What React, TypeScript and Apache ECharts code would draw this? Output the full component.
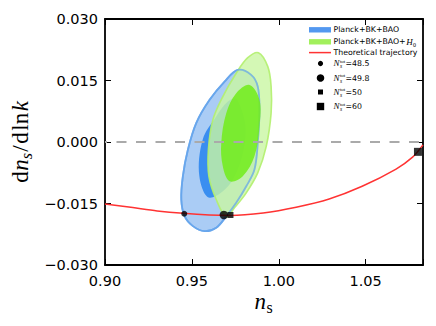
import { useEffect, useRef } from 'react';
import * as echarts from 'echarts';

// ---------- data ----------
const xRange = [0.9, 1.083];
const yRange = [-0.03, 0.03];
const xTickValues = [0.9, 0.95, 1.0, 1.05];
const xTickLabels = ['0.90', '0.95', '1.00', '1.05'];
const yTickValues = [-0.03, -0.015, 0, 0.015, 0.03];
const yTickLabels = ['\u22120.030', '\u22120.015', '0.000', '0.015', '0.030'];

// Planck+BK+BAO 95% and 68% contours (ns, dns/dlnk)
const blueOuter95 = [
  [0.9764, 0.01758], [0.9841, 0.01636], [0.9879, 0.01352], [0.9889, 0.00785],
  [0.9879, -0.00024], [0.986, -0.00673], [0.9813, -0.0108], [0.9755, -0.01483],
  [0.9698, -0.01809], [0.964, -0.02091], [0.9573, -0.02174], [0.9506, -0.02052],
  [0.9458, -0.01809], [0.9439, -0.01403], [0.9448, -0.00836], [0.9477, -0.00187],
  [0.9525, 0.00462], [0.9602, 0.01028], [0.9688, 0.01473],
];
const blueInner68 = [
  [0.9759, 0.01045], [0.9809, 0.00219], [0.9736, -0.00917], [0.9602, -0.01362],
  [0.9543, -0.00836], [0.9562, 0.00056], [0.964, 0.00622], [0.9707, 0.00987],
];
// Planck+BK+BAO+H0 95% and 68% contours
const greenOuter95 = [
  [0.9883, 0.02178], [0.9937, 0.01838], [0.9956, 0.01352], [0.9956, 0.00705],
  [0.9928, -0.00107], [0.9879, -0.00754], [0.9813, -0.0124], [0.9745, -0.01605],
  [0.9698, -0.01828], [0.964, -0.01403], [0.9598, -0.00836], [0.9595, -0.00187],
  [0.9621, 0.00542], [0.9678, 0.01109], [0.9755, 0.01678], [0.982, 0.0205],
];
const greenInner68 = [
  [0.9832, 0.01393], [0.9889, 0.01028], [0.9889, 0.00379], [0.986, -0.0035],
  [0.9793, -0.00836], [0.9717, -0.00958], [0.9678, -0.00593], [0.9669, -0.00024],
  [0.9698, 0.00705], [0.9755, 0.01191],
];
// theoretical trajectory
const trajectory = [
  [0.9, -0.0151], [0.916, -0.016], [0.93, -0.0168], [0.945, -0.0174], [0.96, -0.0178],
  [0.972, -0.0179], [0.991, -0.0173], [1.01, -0.0159], [1.029, -0.0139],
  [1.048, -0.0108], [1.0675, -0.0066], [1.077, -0.0037], [1.083, -0.0007],
];
const zeroLine = [[0.9, 0], [1.083, 0]];
const pointN485 = [[0.9456, -0.0175]];
const pointN498 = [[0.9684, -0.0178]];
const pointN50 = [[0.9722, -0.0178]];
const pointN60 = [[1.0801, -0.0024]];
const legendNames = ['Planck+BK+BAO', 'Planck+BK+BAO+', 'Theoretical trajectory'];
const nValues = ['48.5', '49.8', '50', '60'];

// ---------- helpers ----------
const SERIF = '"Liberation Serif"';
const SANS = '"DejaVu Sans"';

type Tok = { t: string; size: number; family: string; italic?: boolean; dy?: number; gap?: number; stack?: boolean };

let mctx: CanvasRenderingContext2D | null = null;
function fontStr(k: Tok) {
  return `${k.italic ? 'italic ' : ''}${k.size}px ${k.family}`;
}
function tw(t: string, font: string) {
  if (!mctx) mctx = document.createElement('canvas').getContext('2d');
  mctx!.font = font;
  return mctx!.measureText(t).width;
}
function layoutTokens(toks: Tok[], x0: number, baseline: number) {
  let x = x0;
  let stackW = 0;
  let stackGap = 0;
  const els: any[] = [];
  for (const k of toks) {
    const w = tw(k.t, fontStr(k));
    const gx = k.stack ? x + (k.gap ?? 0) : (stackW > 0 ? x + stackGap : x + (k.gap ?? 0));
    els.push({
      type: 'text',
      x: gx,
      y: baseline + (k.dy ?? 0) - 0.34 * k.size,
      style: {
        text: k.t, font: fontStr(k), fill: '#000',
        align: 'left', textAlign: 'left', verticalAlign: 'middle', textVerticalAlign: 'middle',
      },
    });
    if (k.stack) {
      stackW = Math.max(stackW, w);
      stackGap = k.gap ?? 0;
    } else {
      x = gx + Math.max(w, stackW);
      stackW = 0;
      stackGap = 0;
    }
  }
  return { els, width: x - x0 };
}

function polySeries(name: string, pts: number[][], style: any, z: number) {
  return {
    type: 'custom',
    name,
    z,
    silent: true,
    coordinateSystem: 'cartesian2d',
    xAxisIndex: 0,
    yAxisIndex: 0,
    data: [pts[0]],
    renderItem: (_p: any, api: any) => ({
      type: 'polygon',
      shape: { points: pts.map((p) => api.coord(p)), smooth: 0.35 },
      style,
    }),
  };
}

function labelFromTicks(values: number[], labels: string[]) {
  return (v: number) => {
    const i = values.findIndex((t) => Math.abs(t - v) < 1e-7);
    return i >= 0 ? labels[i] : '';
  };
}

export default function App() {
  const ref = useRef<HTMLDivElement>(null);
  useEffect(() => {
    if (!ref.current) return;
    const chart = echarts.init(ref.current, undefined, { renderer: 'svg' });

    const axisLine = { show: true, onZero: false, lineStyle: { color: '#000', width: 1.8 } };
    const axisTick = { show: true, inside: true, length: 6, lineStyle: { color: '#000', width: 1 } };

    // y-axis title (rotated)
    const yTok: Tok[] = [
      { t: 'd', size: 23, family: SERIF },
      { t: 'n', size: 23, family: SERIF, italic: true, gap: 0.5 },
      { t: 's', size: 16, family: SERIF, italic: true, dy: 4 },
      { t: '/', size: 23, family: SERIF, gap: 1.5 },
      { t: 'd', size: 23, family: SERIF, gap: 1.5 },
      { t: 'ln', size: 23, family: SERIF, gap: 1.5 },
      { t: 'k', size: 23, family: SERIF, italic: true, gap: 1.5 },
    ];
    const yw = layoutTokens(yTok, 0, 0).width;
    const yLab = layoutTokens(yTok, -yw / 2, 0).els;

    const xTok: Tok[] = [
      { t: 'n', size: 23, family: SERIF, italic: true },
      { t: 's', size: 16, family: SERIF, dy: 4, gap: 0.5 },
    ];
    const xw = layoutTokens(xTok, 0, 0).width;
    const xLab = layoutTokens(xTok, 263.5 - xw / 2, 309).els;

    // legend
    const LX = 333.5;
    const LF = 7.8;
    const legendEls: any[] = [];
    const rowY = [29.8, 41.8, 52.6, 63.5, 78, 92, 106.5];
    const plain = (t: string, y: number) => ({
      type: 'text', x: LX, y,
      style: { text: t, font: `${LF}px ${SANS}`, fill: '#000', align: 'left', textAlign: 'left', verticalAlign: 'middle', textVerticalAlign: 'middle' },
    });
    legendEls.push({ type: 'rect', shape: { x: 309, y: rowY[0] - 2.7, width: 22, height: 5.4 }, style: { fill: '#5398f0' } });
    legendEls.push(plain(legendNames[0], rowY[0]));
    legendEls.push({ type: 'rect', shape: { x: 309, y: rowY[1] - 2.7, width: 22, height: 5.4 }, style: { fill: '#a2f05c' } });
    legendEls.push(plain(legendNames[1], rowY[1]));
    const w1 = tw(legendNames[1], `${LF}px ${SANS}`);
    legendEls.push(...layoutTokens([
      { t: 'H', size: 9, family: SERIF, italic: true },
      { t: '0', size: 6, family: SERIF, dy: 1.8, gap: 0.3 },
    ], LX + w1 + 0.5, rowY[1] + 3).els);
    legendEls.push({ type: 'line', shape: { x1: 309, y1: rowY[2], x2: 331, y2: rowY[2] }, style: { stroke: '#ff3333', lineWidth: 1.5 } });
    legendEls.push(plain(legendNames[2], rowY[2]));
    legendEls.push({ type: 'circle', shape: { cx: 320.5, cy: rowY[3], r: 2.6 }, style: { fill: '#000' } });
    legendEls.push({ type: 'circle', shape: { cx: 320.5, cy: rowY[4], r: 3.8 }, style: { fill: '#000' } });
    legendEls.push({ type: 'rect', shape: { x: 318, y: rowY[5] - 2.5, width: 5, height: 5 }, style: { fill: '#000' } });
    legendEls.push({ type: 'rect', shape: { x: 316.8, y: rowY[6] - 3.7, width: 7.4, height: 7.4 }, style: { fill: '#000' } });
    nValues.forEach((v, i) => {
      const y = rowY[3 + i];
      legendEls.push(...layoutTokens([
        { t: 'N', size: 9, family: SERIF, italic: true },
        { t: 'tot', size: 5, family: SERIF, dy: -3.8, gap: 0.4, stack: true },
        { t: 's', size: 5.5, family: SERIF, italic: true, dy: 1.8, gap: 0.4 },
        { t: '=' + v, size: LF, family: SANS, dy: -0.2, gap: 0.3 },
      ], LX, y + 3).els);
    });

    const option: any = {
      animation: false,
      backgroundColor: '#fff',
      grid: { left: 105, right: 13, top: 19, bottom: 61, containLabel: false },
      xAxis: [
        {
          type: 'value', min: xRange[0], max: xRange[1], interval: 0.05, position: 'bottom',
          axisLine, axisTick, splitLine: { show: false },
          axisLabel: {
            formatter: labelFromTicks(xTickValues, xTickLabels), fontFamily: 'DejaVu Sans',
            fontSize: 14.5, color: '#000', margin: 8, hideOverlap: false,
          },
        },
        {
          type: 'value', min: xRange[0], max: xRange[1], interval: 0.05, position: 'top',
          axisLine, axisTick, splitLine: { show: false }, axisLabel: { show: false },
        },
      ],
      yAxis: [
        {
          type: 'value', min: yRange[0], max: yRange[1], interval: 0.015, position: 'left',
          axisLine, axisTick, splitLine: { show: false },
          axisLabel: {
            formatter: labelFromTicks(yTickValues, yTickLabels), fontFamily: 'DejaVu Sans',
            fontSize: 14.5, color: '#000', margin: 7,
          },
        },
        {
          type: 'value', min: yRange[0], max: yRange[1], interval: 0.015, position: 'right',
          axisLine, axisTick, splitLine: { show: false }, axisLabel: { show: false },
        },
      ],
      series: [
        polySeries('blueOuter', blueOuter95, { fill: '#aaccf5', stroke: '#68a6ec', lineWidth: 1.8 }, 1),
        polySeries('blueInner', blueInner68, { fill: '#3a8ef0' }, 2),
        polySeries('greenOuter', greenOuter95, { fill: 'rgba(201,246,162,0.8)', stroke: 'rgba(178,240,110,0.9)', lineWidth: 1.6 }, 3),
        polySeries('blueOuterEdge', blueOuter95, { fill: 'none', stroke: 'rgba(104,166,236,0.7)', lineWidth: 1.8 }, 4),
        polySeries('greenInner', greenInner68, { fill: 'rgba(113,236,25,0.85)' }, 5),
        {
          type: 'line', name: 'zero', data: zeroLine, showSymbol: false, silent: true, z: 8,
          lineStyle: { color: '#aaaaaa', width: 2, type: [10, 9.5], dashOffset: 7.8 },
        },
        {
          type: 'line', name: 'Theoretical trajectory', data: trajectory, showSymbol: false, smooth: 0.3,
          silent: true, z: 9, lineStyle: { color: '#ff3333', width: 1.5 },
        },
        { type: 'scatter', name: 'N48.5', data: pointN485, symbol: 'circle', symbolSize: 6, itemStyle: { color: '#000' }, z: 10 },
        { type: 'scatter', name: 'N49.8', data: pointN498, symbol: 'circle', symbolSize: 8.5, itemStyle: { color: '#000' }, z: 10 },
        { type: 'scatter', name: 'N50', data: pointN50, symbol: 'rect', symbolSize: 6, itemStyle: { color: '#000' }, z: 10 },
        { type: 'scatter', name: 'N60', data: pointN60, symbol: 'rect', symbolSize: 8, itemStyle: { color: '#000' }, z: 10 },
      ],
      graphic: [
        { type: 'group', x: 28, y: 142, rotation: Math.PI / 2, children: yLab, z: 20 },
        { type: 'group', children: xLab, z: 20 },
        { type: 'group', children: legendEls, z: 20 },
      ],
    };
    chart.setOption(option);
    return () => chart.dispose();
  }, []);
  return <div ref={ref} style={{ position: 'fixed', left: 0, top: 0, width: 436, height: 326 }} />;
}
